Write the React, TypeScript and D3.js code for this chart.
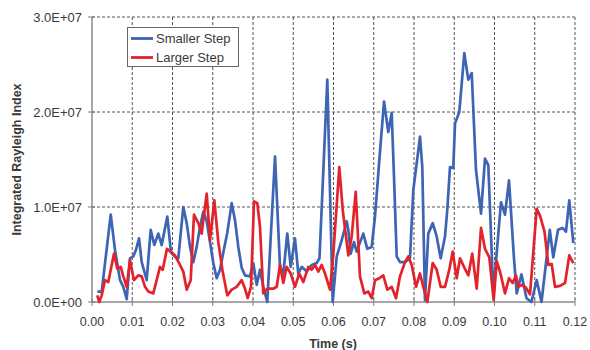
import React from "react";
import * as d3 from "d3";

// Time in milliseconds, index values in units of 1e6
const smallerTime = [1.32, 2.41, 4.65, 5.71, 6.96, 7.78, 8.62, 9.44, 10.26, 10.93, 11.68, 12.35, 13.59, 14.58, 15.48, 16.47, 17.32, 18.71, 19.63, 21.04, 21.44, 22.68, 23.53, 24.35, 25.17, 26.01, 26.83, 27.65, 28.5, 29.32, 30.14, 30.98, 31.8, 32.62, 33.61, 34.71, 35.53, 36.35, 37.19, 38.01, 39.25, 40.07, 40.92, 41.74, 42.56, 43.55, 45.47, 46.71, 47.53, 48.52, 49.37, 50.43, 51.25, 52.1, 53.34, 54.58, 55.83, 56.52, 58.46, 59.8, 60.8, 62.04, 63.28, 63.68, 64.27, 65.09, 65.76, 67.4, 68.4, 69.49, 70.31, 71.38, 72.55, 73.61, 74.46, 75.03, 75.7, 76.52, 77.76, 79.0, 79.83, 80.67, 81.49, 82.06, 82.73, 83.55, 84.65, 85.64, 86.63, 87.7, 88.27, 88.94, 89.76, 90.19, 91.25, 92.5, 93.49, 94.34, 95.4, 96.65, 97.64, 98.46, 99.7, 101.61, 102.61, 103.6, 104.84, 105.52, 106.71, 107.95, 109.19, 110.48, 111.68, 113.74, 114.61, 115.78, 116.89, 117.76, 118.58, 119.58];
const smallerValue = [1.1, 1.1, 9.2, 5.5, 2.3, 1.6, 0.3, 4.6, 4.8, 5.5, 6.7, 4.2, 2.3, 7.6, 6.0, 7.2, 6.0, 9.0, 5.2, 4.6, 4.6, 10.0, 8.3, 5.8, 4.2, 5.8, 7.9, 9.5, 8.5, 6.3, 4.1, 2.5, 3.4, 5.2, 7.3, 10.4, 8.6, 5.8, 3.6, 2.8, 2.7, 4.1, 1.8, 3.4, 1.6, 0.0, 15.3, 3.7, 3.0, 7.2, 3.7, 6.7, 3.0, 3.7, 3.2, 3.9, 4.1, 4.6, 23.4, 0.0, 4.8, 6.5, 8.5, 7.6, 5.1, 6.3, 5.3, 7.2, 5.6, 5.8, 9.0, 14.9, 21.1, 17.9, 19.9, 13.2, 4.8, 4.2, 4.2, 4.6, 11.8, 14.6, 17.4, 14.2, 0.2, 7.2, 8.3, 6.9, 4.6, 6.9, 9.7, 14.2, 14.1, 18.8, 20.0, 26.2, 23.4, 24.1, 13.9, 9.3, 15.1, 14.4, 0.9, 10.5, 9.2, 12.8, 4.6, 0.9, 2.9, 0.4, 0.0, 2.3, 0.0, 7.6, 4.7, 7.6, 7.8, 7.4, 10.7, 6.2];

const largerTime = [1.32, 1.81, 2.41, 3.23, 4.05, 5.47, 6.29, 7.13, 7.78, 8.62, 9.44, 10.43, 11.5, 12.35, 13.17, 13.99, 15.23, 16.07, 16.89, 17.57, 18.63, 19.88, 20.62, 21.86, 22.68, 23.53, 24.52, 25.34, 26.41, 27.25, 27.65, 28.5, 29.32, 30.39, 31.38, 32.47, 33.61, 34.71, 35.95, 37.19, 38.01, 38.68, 39.5, 40.25, 41.07, 41.74, 42.56, 43.55, 45.04, 45.89, 46.71, 47.53, 48.37, 49.37, 50.43, 51.5, 52.5, 53.74, 54.58, 55.4, 56.22, 57.07, 57.89, 59.13, 59.95, 61.44, 62.29, 63.68, 64.52, 65.52, 66.58, 67.65, 68.65, 69.49, 70.31, 71.38, 72.37, 73.37, 74.46, 75.53, 76.52, 77.76, 78.58, 79.43, 80.5, 81.49, 82.31, 83.31, 84.65, 85.64, 86.63, 87.7, 88.77, 89.61, 90.61, 91.43, 92.42, 93.49, 94.48, 95.58, 96.65, 97.64, 98.71, 99.8, 100.55, 101.49, 102.61, 103.6, 104.52, 105.34, 105.91, 106.76, 107.83, 108.82, 110.48, 111.3, 112.42, 113.37, 114.21, 115.03, 116.27, 117.52, 118.58, 119.58];
const largerValue = [0.7, 0.0, 0.7, 2.3, 2.1, 5.1, 3.5, 3.7, 2.7, 1.6, 4.4, 2.3, 2.8, 2.7, 1.6, 1.1, 0.9, 2.3, 3.7, 3.4, 5.6, 5.2, 4.9, 3.9, 3.2, 1.3, 2.3, 9.2, 8.3, 7.2, 8.6, 11.4, 6.5, 10.7, 6.3, 3.2, 0.7, 1.3, 1.6, 2.3, 1.4, 0.4, 1.6, 10.6, 10.4, 7.9, 0.9, 1.4, 1.4, 1.6, 3.9, 2.0, 3.7, 3.0, 1.6, 3.0, 2.1, 3.7, 3.4, 3.9, 3.2, 3.9, 3.0, 1.3, 5.0, 14.2, 9.7, 4.9, 6.9, 11.6, 2.7, 0.9, 1.1, 0.4, 2.3, 2.5, 2.8, 1.3, 1.6, 0.4, 2.7, 4.2, 4.8, 3.9, 1.6, 3.0, 1.6, 0.0, 4.1, 3.4, 1.6, 1.6, 3.4, 5.3, 2.5, 4.6, 3.7, 2.8, 5.1, 1.4, 7.8, 5.6, 4.7, 0.2, 4.3, 3.0, 0.9, 2.5, 2.0, 2.8, 1.6, 1.8, 1.5, 0.8, 9.8, 9.1, 7.4, 3.9, 4.0, 1.6, 1.7, 2.0, 4.9, 4.1];

const xTicks = [0, 10, 20, 30, 40, 50, 60, 70, 80, 90, 100, 110, 120];
const xTickLabels = ["0.00", "0.01", "0.02", "0.03", "0.04", "0.05", "0.06", "0.07", "0.08", "0.09", "0.10", "0.11", "0.12"];
const yTicks = [0, 10, 20, 30];
const yTickLabels = ["0.0E+00", "1.0E+07", "2.0E+07", "3.0E+07"];

const seriesNames = ["Smaller Step", "Larger Step"];
const seriesColors = ["#3d65b4", "#e3232b"];

const W = 590;
const H = 350;
const left = 92;
const right = 575;
const top = 17;
const bottom = 302;

export default function App() {
  const x = d3.scaleLinear().domain([0, 120]).range([left, right]);
  const y = d3.scaleLinear().domain([0, 30]).range([bottom, top]);

  const line = d3
    .line<[number, number]>()
    .x((d) => x(d[0]))
    .y((d) => y(d[1]));

  const smaller = smallerTime.map((t, i) => [t, smallerValue[i]] as [number, number]);
  const larger = largerTime.map((t, i) => [t, largerValue[i]] as [number, number]);
  const series = [smaller, larger];

  const font = "'Liberation Sans', Arial, sans-serif";
  const textColor = "#3a3a3a";

  return (
    <svg
      width={W}
      height={H}
      style={{ position: "absolute", left: 0, top: 0, background: "#fff" }}
      fontFamily={font}
    >
      {/* dashed grid */}
      {xTicks.slice(1).map((t) => (
        <line
          key={"gx" + t}
          x1={x(t)}
          x2={x(t)}
          y1={y(30)}
          y2={y(0)}
          stroke="#555"
          strokeWidth={1}
          strokeDasharray="3,2"
        />
      ))}
      {yTicks.slice(1).map((v) => (
        <line
          key={"gy" + v}
          x1={x(0)}
          x2={x(120)}
          y1={y(v)}
          y2={y(v)}
          stroke="#555"
          strokeWidth={1}
          strokeDasharray="3,2"
        />
      ))}

      {/* axes */}
      <line x1={x(0)} x2={x(0)} y1={y(30)} y2={y(0)} stroke="#8a8a8a" strokeWidth={1.5} />
      <line x1={x(0)} x2={x(120)} y1={y(0)} y2={y(0)} stroke="#8a8a8a" strokeWidth={1.5} />
      {xTicks.map((t) => (
        <line key={"tx" + t} x1={x(t)} x2={x(t)} y1={y(0) - 3} y2={y(0) + 4} stroke="#7a7a7a" strokeWidth={1} />
      ))}
      {yTicks.map((v) => (
        <line key={"ty" + v} x1={x(0) - 4} x2={x(0) + 3} y1={y(v)} y2={y(v)} stroke="#7a7a7a" strokeWidth={1} />
      ))}

      {/* tick labels */}
      {xTicks.map((t, i) => (
        <text key={"lx" + t} x={x(t)} y={326} textAnchor="middle" fontSize={12.5} fill={textColor}>
          {xTickLabels[i]}
        </text>
      ))}
      {yTicks.map((v, i) => (
        <text key={"ly" + v} x={82} y={y(v) + 4.5} textAnchor="end" fontSize={13} fill={textColor}>
          {yTickLabels[i]}
        </text>
      ))}

      {/* axis titles */}
      <text x={333} y={348} textAnchor="middle" fontSize={12.5} fontWeight="bold" fill={textColor}>
        Time (s)
      </text>
      <text
        transform={`translate(21, ${(top + bottom) / 2}) rotate(-90)`}
        textAnchor="middle"
        fontSize={12.5}
        fontWeight="bold"
        fill={textColor}
      >
        Integrated Rayleigh Index
      </text>

      {/* series */}
      {series.map((s, i) => (
        <path
          key={"s" + i}
          d={line(s) || ""}
          fill="none"
          stroke={seriesColors[i]}
          strokeWidth={2.7}
          strokeLinejoin="round"
        />
      ))}

      {/* legend */}
      <rect x={127.5} y={27.5} width={111} height={39} fill="#fff" stroke="#666" strokeWidth={1} />
      {seriesNames.map((name, i) => (
        <g key={"lg" + i}>
          <line
            x1={131}
            x2={153}
            y1={38.5 + i * 19}
            y2={38.5 + i * 19}
            stroke={seriesColors[i]}
            strokeWidth={2.8}
          />
          <text x={156} y={43 + i * 19} fontSize={13} fill={textColor}>
            {name}
          </text>
        </g>
      ))}
    </svg>
  );
}
